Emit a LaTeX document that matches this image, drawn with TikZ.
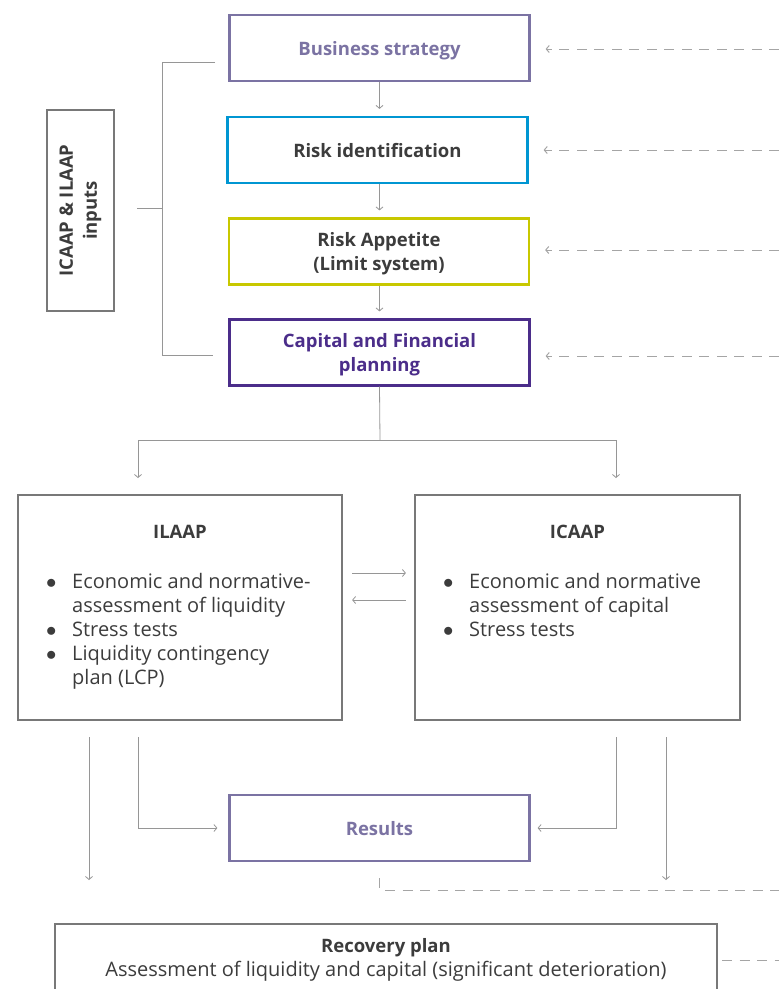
\documentclass[tikz,border=0pt]{standalone}
\usepackage{fontspec}
\setmainfont{Open Sans}
\usetikzlibrary{arrows.meta,positioning,calc}
\definecolor{stratcol}{RGB}{123,115,163}
\definecolor{riskcol}{RGB}{0,150,210}
\definecolor{appcol}{RGB}{200,200,0}
\definecolor{plancol}{RGB}{75,45,138}
\definecolor{boxgrey}{RGB}{120,120,120}
\definecolor{linegrey}{RGB}{150,150,150}
\definecolor{feedgrey}{RGB}{165,165,165}
\definecolor{textgrey}{RGB}{60,60,60}
\newcommand{\titlefont}{\fontsize{18.5}{24}\selectfont}
\newcommand{\bodyfont}{\fontsize{20}{24}\selectfont}
\newcommand{\bulletmark}{\makebox[27pt][l]{\hspace{1pt}$\bullet$}}
\tikzset{
  stagebox/.style={rectangle,draw,line width=2.2pt,fill=white,minimum width=300pt,minimum height=66pt,font=\bfseries\titlefont,align=center,inner sep=2pt,text depth=0pt},
  greybox/.style={rectangle,draw=boxgrey,line width=2.2pt,inner sep=0pt},
  boxtitle/.style={font=\bfseries\titlefont,text=textgrey,align=center,inner sep=0pt},
  bullets/.style={font=\bodyfont,text=textgrey,anchor=north west,inner sep=0pt},
  link/.style={draw=linegrey,line width=0.8pt,-{Straight Barb[length=3pt,width=7pt]}},
  feed/.style={draw=feedgrey,line width=1pt,dash pattern=on 10pt off 7.5pt}
}

\begin{document}
\begin{tikzpicture}[x=1pt,y=-1pt]
  \clip (0,0) rectangle (779,989);
  % top chain
  \node[stagebox,draw=stratcol,text=stratcol] (strat) at (379.5,48) {Business strategy};
  \node[stagebox,draw=riskcol,text=textgrey] (risk) at (377.5,150) {Risk identification};
  \node[stagebox,draw=appcol,text=textgrey] (appetite) at (379,251.5) {Risk Appetite\\(Limit system)};
  \node[stagebox,draw=plancol,text=plancol] (plan) at (379.5,352.5) {Capital and Financial\\planning};
  \draw[link,shorten >=7pt] (strat.south) -- (strat.south |- risk.north);
  \draw[link,shorten >=7pt] (risk.south -| strat.south) -- (strat.south |- appetite.north);
  \draw[link,shorten >=7pt] (appetite.south -| strat.south) -- (strat.south |- plan.north);

  % inputs and bracket
  \node[greybox,minimum width=67pt,minimum height=201pt] (inputs) at (80.5,210.5) {};
  \node[boxtitle,rotate=90] (inputstext) at (inputs) {ICAAP \& ILAAP\\inputs};
  \coordinate (brtop) at (215,62);
  \coordinate (brbot) at (213,355);
  \coordinate (brmid) at (162,208);
  \draw[linegrey,line width=0.8pt] (brtop) -- (brtop -| brmid) -- (brbot -| brmid) -- (brbot);
  \draw[linegrey,line width=0.8pt] (brmid) -- ++(-25,0);

  % external feeds
  \foreach \nm/\yy in {strat/49,risk/150,appetite/250,plan/356}{
    \coordinate (in-\nm) at (779,\yy);
    \draw[feed,-{Straight Barb[length=3pt,width=7pt]},shorten >=15pt] (in-\nm) -- (\nm.east |- in-\nm);
  }

  % ILAAP and ICAAP
  \node[greybox,minimum width=324pt,minimum height=225pt] (ilaap) at (180,607.5) {};
  \node[greybox,minimum width=325pt,minimum height=225pt] (icaap) at (577.5,607.5) {};
  \node[boxtitle] (ilaaptitle) at ($(ilaap.north)+(0,38)$) {ILAAP};
  \node[boxtitle] (icaaptitle) at ($(icaap.north)+(0,38)$) {ICAAP};
  \node[bullets] (ilaaplist) at (45,571.5) {\begin{tabular}{@{}l@{}l@{}}
    \bulletmark & Economic and normative-\\
                & assessment of liquidity\\
    \bulletmark & Stress tests\\
    \bulletmark & Liquidity contingency\\
                & plan (LCP)
  \end{tabular}};
  \node[bullets] (icaaplist) at (442,571.5) {\begin{tabular}{@{}l@{}l@{}}
    \bulletmark & Economic and normative\\
                & assessment of capital\\
    \bulletmark & Stress tests
  \end{tabular}};
  \coordinate (split) at (380,440);
  \coordinate (ilaapin) at (138,495);
  \coordinate (icaapin) at (616,495);
  \draw[linegrey,line width=0.8pt] (plan.south) -- (split);
  \draw[link,shorten >=17pt] (split) -| (ilaapin);
  \draw[link,shorten >=17pt] (split) -| (icaapin);
  \draw[link,shorten <=9pt,shorten >=8pt] ($(ilaap.east)+(0,-34.5)$) -- ($(icaap.west)+(0,-34.5)$);
  \draw[link,shorten <=8pt,shorten >=9pt] ($(icaap.west)+(0,-7.5)$) -- ($(ilaap.east)+(0,-7.5)$);

  % results and recovery plan
  \node[stagebox,draw=stratcol,text=stratcol] (results) at (379.5,828) {Results};
  \node[greybox,minimum width=662pt,minimum height=90pt,anchor=north] (recovery) at (386,923) {};
  \node[font=\bodyfont,text=textgrey,align=center,inner sep=0pt] (recoverytext) at ($(recovery.north)+(0,37)$)
    {{\bfseries\titlefont Recovery plan}\\Assessment of liquidity and capital (significant deterioration)};
  \coordinate (xa) at (89,0);
  \coordinate (xb) at (138,0);
  \coordinate (xc) at (616,0);
  \coordinate (xd) at (666,0);
  \draw[link,shorten <=16pt,shorten >=43pt] (ilaap.south -| xa) -- (recovery.north -| xa);
  \draw[link,shorten <=16pt,shorten >=11pt] (ilaap.south -| xb) |- (results.west);
  \draw[link,shorten <=16pt,shorten >=7pt] (icaap.south -| xc) |- (results.east);
  \draw[link,shorten <=16pt,shorten >=43pt] (icaap.south -| xd) -- (recovery.north -| xd);
  \coordinate (resout) at (779,890);
  \coordinate (recout) at (779,960);
  \draw[feed,shorten <=16pt] (results.south) |- (resout);
  \draw[feed,shorten <=4pt] (recovery.east |- recout) -- (recout);
\end{tikzpicture}
\end{document}
